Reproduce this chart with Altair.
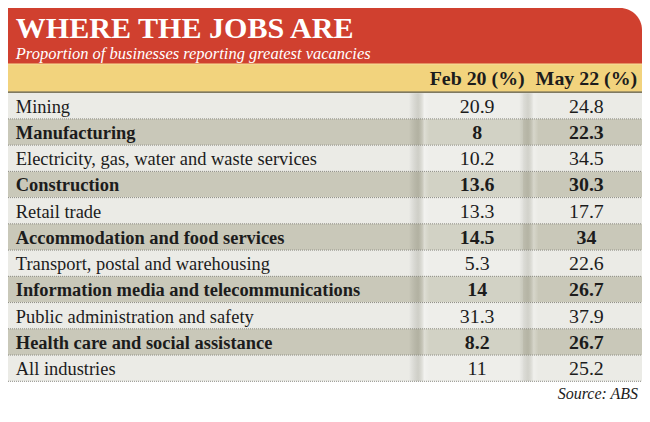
import altair as alt
import pandas as pd

# ---- data ----
industries = [
    "Mining",
    "Manufacturing",
    "Electricity, gas, water and waste services",
    "Construction",
    "Retail trade",
    "Accommodation and food services",
    "Transport, postal and warehousing",
    "Information media and telecommunications",
    "Public administration and safety",
    "Health care and social assistance",
    "All industries",
]
feb20 = [20.9, 8, 10.2, 13.6, 13.3, 14.5, 5.3, 14, 31.3, 8.2, 11]
may22 = [24.8, 22.3, 34.5, 30.3, 17.7, 34, 22.6, 26.7, 37.9, 26.7, 25.2]
col_keys = ["feb", "may"]
col_labels = ["Feb 20 (%)", "May 22 (%)"]
title_text = "WHERE THE JOBS ARE"
subtitle_text = "Proportion of businesses reporting greatest vacancies"
source_text = "Source: ABS"

# ---- geometry (reference 650x422 mapped into 634x406) ----
W, H = 634, 406
SX, SY = W / 650, H / 422
FS = 0.97
def X(v): return v * SX
def Y(v): return v * SY

RED = "#d0402f"
YELLOW = "#f2d37d"
LIGHT = "#ebebe6"
DARK = "#c9c8b9"
TEXT = "#1c1c1c"
FONT = "Liberation Serif"

df = pd.DataFrame({
    "industry": industries,
    "feb": feb20,
    "may": may22,
    "shade": ["light" if i % 2 == 0 else "dark" for i in range(len(industries))],
})

hdr = pd.DataFrame({"key": col_keys, "label": col_labels})

yscale = alt.Scale(domain=industries, range=[Y(88), Y(388)], paddingInner=0, paddingOuter=0)
xcol = alt.Scale(type="point", domain=col_keys, range=[X(481), X(593)], padding=0)

base = alt.Chart(df)
one = pd.DataFrame({"a": [0]})

# header blocks
red = alt.Chart(one).mark_rect(color=RED, cornerRadiusTopRight=22).encode(
    x=alt.value(0), x2=alt.value(W), y=alt.value(0), y2=alt.value(Y(58)))
orange_line = alt.Chart(one).mark_rule(color="#e9a060", strokeWidth=1).encode(
    x=alt.value(0), x2=alt.value(W), y=alt.value(Y(58)))
yellow = alt.Chart(one).mark_rect(color=YELLOW).encode(
    x=alt.value(0), x2=alt.value(W), y=alt.value(Y(58.5)), y2=alt.value(Y(87)))
dark_line = alt.Chart(one).mark_rule(color="#5b5335", strokeWidth=1.5).encode(
    x=alt.value(0), x2=alt.value(W), y=alt.value(Y(87.5)))

# row backgrounds
rows = base.mark_rect().encode(
    y=alt.Y("industry:N", scale=yscale, axis=None),
    x=alt.value(0), x2=alt.value(W),
    color=alt.Color("shade:N", scale=alt.Scale(domain=["light", "dark"], range=[LIGHT, DARK]), legend=None),
)

# column shading
def shadow(x0, x1, peak):
    grad = alt.LinearGradient(
        gradient="linear", x1=0, x2=1, y1=0, y2=0,
        stops=[
            alt.GradientStop(color="rgba(0,0,0,0)", offset=0),
            alt.GradientStop(color=f"rgba(60,60,40,{peak})", offset=0.45),
            alt.GradientStop(color="rgba(255,255,255,0.25)", offset=0.75),
            alt.GradientStop(color="rgba(255,255,255,0)", offset=1),
        ],
    )
    return alt.Chart(one).mark_rect(color=grad).encode(
        x=alt.value(X(x0)), x2=alt.value(X(x1)), y=alt.value(Y(88.5)), y2=alt.value(Y(388)))

lighten = alt.Chart(one).mark_rect(color="white", opacity=0.18).encode(
    x=alt.value(X(426)), x2=alt.value(X(528)), y=alt.value(Y(88.5)), y2=alt.value(Y(388)))

sep = base.mark_rule(color="#8c8c84", strokeDash=[1, 1], strokeWidth=1).encode(
    y=alt.Y("industry:N", scale=yscale, axis=None, bandPosition=1),
    x=alt.value(0), x2=alt.value(W),
)

def label_layer(shade, weight):
    return base.transform_filter(alt.datum.shade == shade).mark_text(
        align="left", baseline="middle", font=FONT, fontSize=19 * FS, fontWeight=weight, color=TEXT, dy=1
    ).encode(
        y=alt.Y("industry:N", scale=yscale, axis=None),
        x=alt.value(X(8)),
        text="industry:N",
    )

def value_layer(shade, weight):
    return base.transform_filter(alt.datum.shade == shade).transform_fold(
        col_keys, as_=["key", "value"]
    ).mark_text(
        align="center", baseline="middle", font=FONT, fontSize=20.5 * FS, fontWeight=weight, color=TEXT, dy=1
    ).encode(
        y=alt.Y("industry:N", scale=yscale, axis=None),
        x=alt.X("key:N", scale=xcol, axis=None),
        text=alt.Text("value:Q", format=".1~f"),
    )

headers = alt.Chart(hdr).mark_text(
    align="center", baseline="middle", font=FONT, fontSize=20.5 * FS, fontWeight="bold", color=TEXT
).encode(
    x=alt.X("key:N", scale=xcol, axis=None),
    y=alt.value(Y(74)),
    text="label:N",
)

title = alt.Chart(pd.DataFrame({"t": [title_text]})).mark_text(
    align="left", baseline="alphabetic", font=FONT, fontSize=31 * FS, fontWeight="bold", color="white"
).encode(x=alt.value(X(8)), y=alt.value(Y(31)), text="t:N")

subtitle = alt.Chart(pd.DataFrame({"t": [subtitle_text]})).mark_text(
    align="left", baseline="alphabetic", font=FONT, fontSize=17 * FS, fontStyle="italic", color="white"
).encode(x=alt.value(X(8)), y=alt.value(Y(53)), text="t:N")

source = alt.Chart(pd.DataFrame({"t": [source_text]})).mark_text(
    align="right", baseline="alphabetic", font=FONT, fontSize=16.5 * FS, fontStyle="italic", color=TEXT
).encode(x=alt.value(X(646)), y=alt.value(Y(406)), text="t:N")

chart = alt.layer(
    red, orange_line, yellow, dark_line, rows, lighten,
    shadow(411, 432, 0.16), shadow(524, 544, 0.14),
    sep,
    label_layer("light", "normal"), label_layer("dark", "bold"),
    value_layer("light", "normal"), value_layer("dark", "bold"),
    headers, title, subtitle, source,
).properties(
    width=W, height=H, padding=0, autosize=alt.AutoSizeParams(type="none"), background="white"
).configure_view(stroke=None)

chart.save("out.html", embed_options={"renderer": "svg", "actions": False})
